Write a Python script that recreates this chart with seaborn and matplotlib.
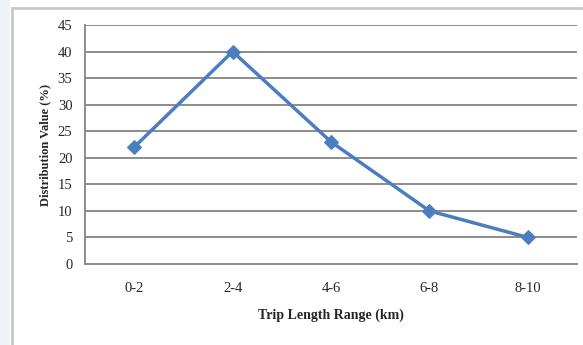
import numpy as np
import pandas as pd
import matplotlib
matplotlib.use('Agg')
import matplotlib.pyplot as plt
import seaborn as sns

# Data
trip_ranges = ['0-2', '2-4', '4-6', '6-8', '8-10']
distribution = [22, 40, 23, 10, 5]
y_ticks = [0, 5, 10, 15, 20, 25, 30, 35, 40, 45]

df = pd.DataFrame({'range': trip_ranges, 'value': distribution})
df['pos'] = np.arange(len(trip_ranges))

sns.set_style('white')
plt.rcParams['font.family'] = ['Liberation Serif', 'DejaVu Serif']

fig = plt.figure(figsize=(5.83, 3.45), dpi=100)
ax = fig.add_axes([85 / 583, 1 - 264 / 345, (577 - 85) / 583, (264 - 25) / 345])

# light outer frame like the pasted chart image
fig.patches.append(plt.Rectangle((12 / 583, -0.1), 1.2, (345 - 8) / 345 + 0.1,
                                 transform=fig.transFigure, fill=False,
                                 edgecolor='#c4c8cc', linewidth=2))
fig.patches.append(plt.Rectangle((0, 0), 10 / 583, 1, transform=fig.transFigure,
                                 facecolor='#eef2f7', edgecolor='none'))

ax.grid(axis='y', color='#8c8c8c', linewidth=1.4)
ax.set_axisbelow(True)

sns.lineplot(data=df, x='pos', y='value', ax=ax, color='#4a7ebf', linewidth=2.5,
             marker='D', markersize=7, markeredgecolor='#4a7ebf')

ax.set_xlim(-0.5, len(trip_ranges) - 0.5)
ax.set_ylim(0, 45)
ax.set_yticks(y_ticks)
ax.set_xticks(df['pos'])
ax.set_xticklabels(trip_ranges)
ax.set_xticks(np.arange(-0.5, len(trip_ranges)), minor=True)
ax.tick_params(axis='x', which='major', length=0, pad=13, labelsize=10.5)
ax.tick_params(axis='x', which='minor', length=3, color='#8c8c8c', direction='out')
ax.tick_params(axis='y', length=5, color='#8c8c8c', direction='out', labelsize=10.5, pad=4)

for s in ['top', 'right']:
    ax.spines[s].set_visible(False)
for s in ['left', 'bottom']:
    ax.spines[s].set_color('#8c8c8c')
    ax.spines[s].set_linewidth(1.4)

ax.set_xlabel('Trip Length Range (km)', fontweight='bold', fontsize=10, labelpad=10)
ax.set_ylabel('Distribution Value (%)', fontweight='bold', fontsize=9, labelpad=5)

fig.savefig('out.png', dpi=100)
